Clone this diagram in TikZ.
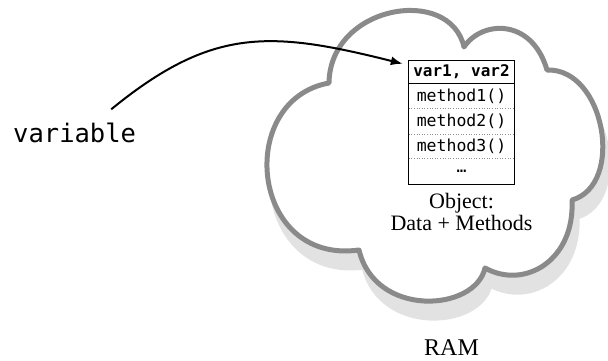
\documentclass[tikz,border=0pt]{standalone}
\usepackage{fontspec}
\setmainfont{Liberation Serif}
\newfontfamily\codefont{DejaVu Sans Mono}
\usetikzlibrary{arrows.meta}
\definecolor{cloudgrey}{HTML}{8A8A8A}
\definecolor{shadowgrey}{HTML}{E2E2E2}
\definecolor{dotgrey}{HTML}{909090}
\newcommand{\ramcloudpath}{(329,83) .. controls (330,5) and (450,-15) .. (464,47)
  .. controls (482,20) and (532,18) .. (547,70)
  .. controls (605,68) and (625,185) .. (572,200)
  .. controls (575,260) and (525,290) .. (485,268)
  .. controls (475,312) and (375,318) .. (359,250)
  .. controls (250,265) and (235,100) .. (329,83) -- cycle}
\begin{document}
\begin{tikzpicture}[x=1pt,y=-1pt,
  cloudline/.style={draw=cloudgrey,line width=5pt,fill=white,line join=round},
  cloudshadow/.style={draw=shadowgrey,line width=5pt,fill=shadowgrey,line join=round},
  cell/.style={minimum width=105pt,inner sep=0pt,font=\codefont\fontsize{16.5}{18}\selectfont,text=black},
  sep/.style={dotgrey,line width=0.6pt,dotted},
  label/.style={inner sep=0pt,anchor=base,text=black},
  pointer/.style={line width=2pt,-{Latex[length=12pt,width=9pt]}}]
\useasboundingbox (0,0) rectangle (608,360);
% cloud with shadow
\begin{scope}[shift={(5,17)}]
  \path[cloudshadow] \ramcloudpath;
\end{scope}
\path[cloudline] \ramcloudpath;
% object box
\node[cell,minimum height=22pt,font=\codefont\bfseries\fontsize{16}{18}\selectfont] (hdr) at (461.5,72) {var1, var2};
\node[cell,minimum height=25pt,anchor=north] (m1) at (hdr.south) {method1()};
\node[cell,minimum height=25pt,anchor=north] (m2) at (m1.south) {method2()};
\node[cell,minimum height=24pt,anchor=north] (m3) at (m2.south) {method3()};
\node[cell,minimum height=26pt,anchor=north] (m4) at (m3.south) {…};
\draw[sep] (m1.south west) -- (m1.south east);
\draw[sep] (m2.south west) -- (m2.south east);
\draw[sep] (m3.south west) -- (m3.south east);
\draw[line width=1.2pt] (hdr.south west) -- (hdr.south east);
\draw[line width=1.2pt] (hdr.north west) rectangle (m4.south east);
% texts
\node[label,font=\fontsize{22}{24}\selectfont] (obj1) at (461.5,208) {Object:};
\node[label,font=\fontsize{22}{24}\selectfont] (obj2) at (461.5,230) {Data + Methods};
\node[label,font=\fontsize{24}{26}\selectfont] (ram) at (451.5,355) {RAM};
\node[inner sep=0pt,anchor=base west,font=\codefont\fontsize{25.5}{28}\selectfont,text=black] (var) at (13,142) {variable};
% pointer
\coordinate (vstart) at ([xshift=-25pt,yshift=13pt]var.north east);
\coordinate (vend) at ([xshift=-6pt,yshift=-3pt]hdr.north west);
\draw[pointer] (vstart) .. controls (212,27) and (270,30.5) .. (vend);
\end{tikzpicture}
\end{document}
